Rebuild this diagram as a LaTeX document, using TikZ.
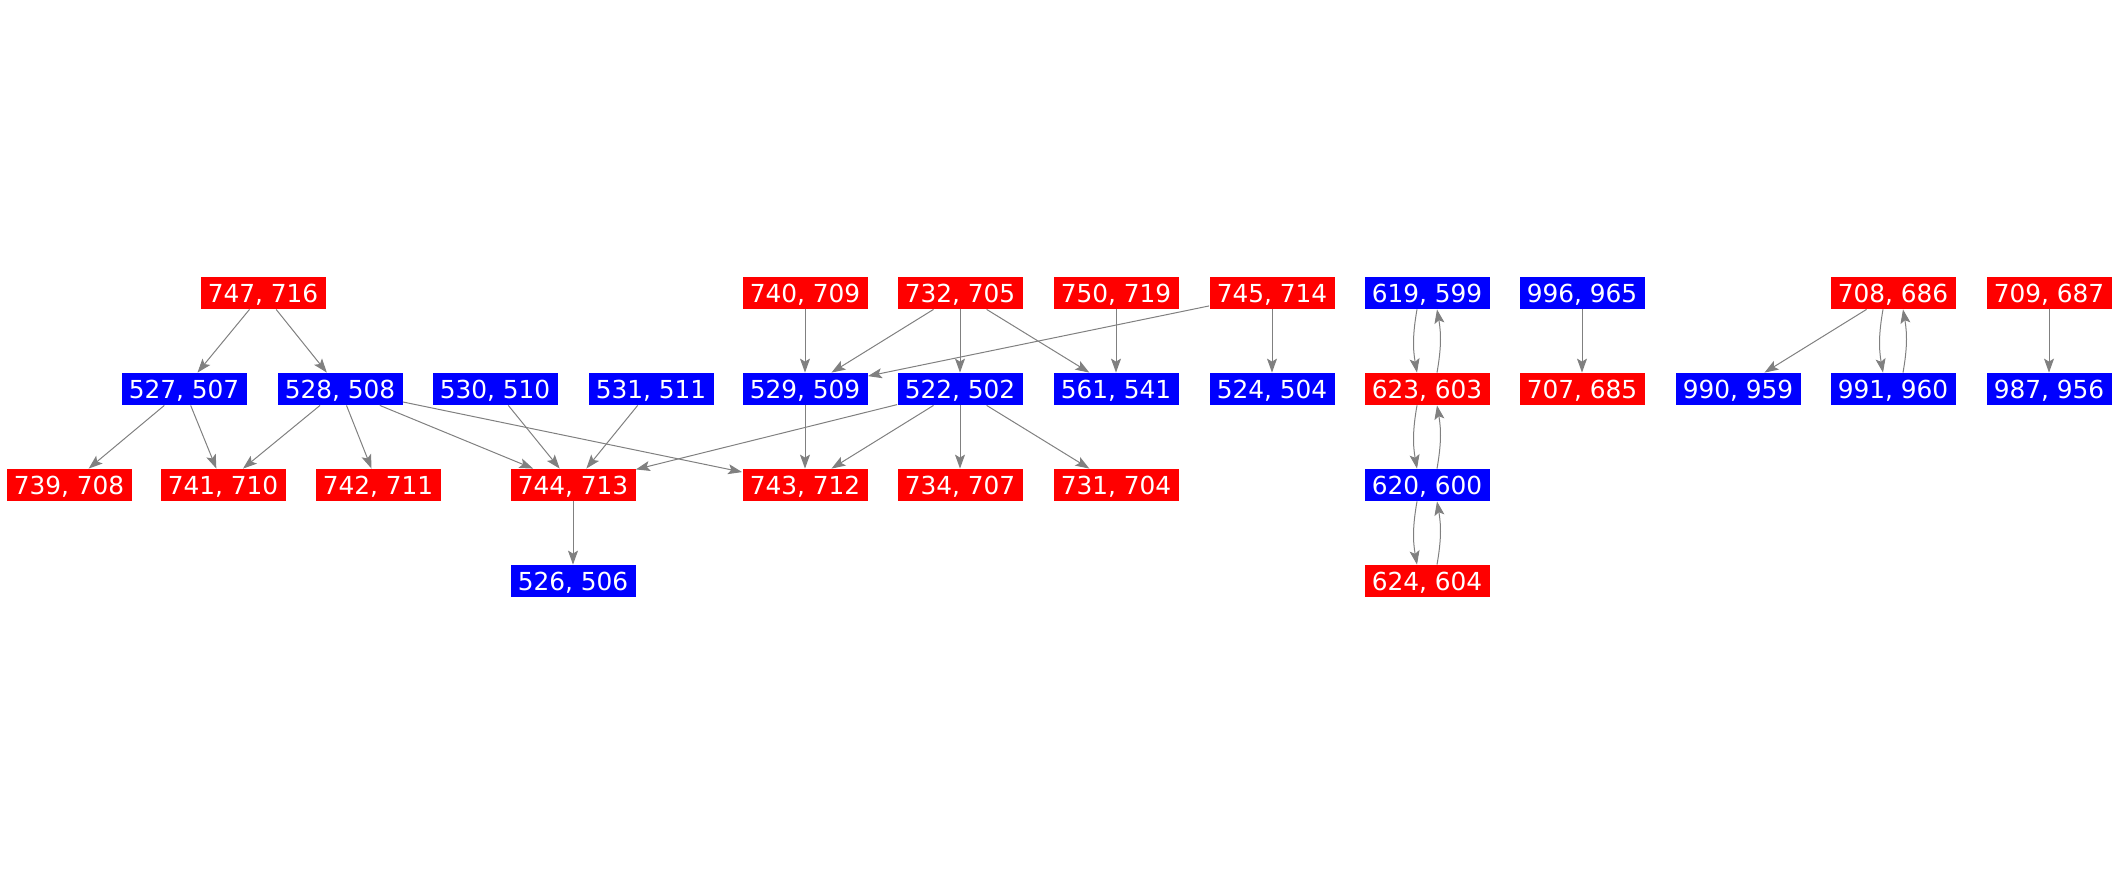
\documentclass[tikz,border=0pt]{standalone}
\usepackage{fontspec}
\setmainfont{DejaVu Sans}
\usepackage{xcolor}
\usepackage{tikz}
\usetikzlibrary{arrows.meta}

\tikzset{
  pair/.style={minimum width=62.5pt, minimum height=16pt, inner sep=0pt,
    text depth=0pt, text=white, font=\fontsize{12.4}{14}\selectfont},
  rnode/.style={pair, fill=red},
  bnode/.style={pair, fill=blue},
  edge/.style={draw=gray, line width=0.5pt,
    -{Stealth[length=7pt, width=5pt, inset=1.5pt]}}
}

\begin{document}
\begin{tikzpicture}[x=0.5pt, y=-0.5pt]
  \useasboundingbox (0,0) rectangle (2117,875);
  % first row
  \node[rnode] (n747) at (263,293) {747, 716};
  \node[rnode] (n740) at (805,293) {740, 709};
  \node[rnode] (n732) at (960,293) {732, 705};
  \node[rnode] (n750) at (1116,293) {750, 719};
  \node[rnode] (n745) at (1272,293) {745, 714};
  \node[bnode] (n619) at (1427,293) {619, 599};
  \node[bnode] (n996) at (1582,293) {996, 965};
  \node[rnode] (n708) at (1893,293) {708, 686};
  \node[rnode] (n709) at (2049,293) {709, 687};
  % second row
  \node[bnode] (n527) at (184,389) {527, 507};
  \node[bnode] (n528) at (340,389) {528, 508};
  \node[bnode] (n530) at (495,389) {530, 510};
  \node[bnode] (n531) at (651,389) {531, 511};
  \node[bnode] (n529) at (805,389) {529, 509};
  \node[bnode] (n522) at (960,389) {522, 502};
  \node[bnode] (n561) at (1116,389) {561, 541};
  \node[bnode] (n524) at (1272,389) {524, 504};
  \node[rnode] (n623) at (1427,389) {623, 603};
  \node[rnode] (n707) at (1582,389) {707, 685};
  \node[bnode] (n990) at (1738,389) {990, 959};
  \node[bnode] (n991) at (1893,389) {991, 960};
  \node[bnode] (n987) at (2049,389) {987, 956};
  % third row
  \node[rnode] (n739) at (69,485) {739, 708};
  \node[rnode] (n741) at (223,485) {741, 710};
  \node[rnode] (n742) at (378,485) {742, 711};
  \node[rnode] (n744) at (573,485) {744, 713};
  \node[rnode] (n743) at (805,485) {743, 712};
  \node[rnode] (n734) at (960,485) {734, 707};
  \node[rnode] (n731) at (1116,485) {731, 704};
  \node[bnode] (n620) at (1427,485) {620, 600};
  % fourth row
  \node[bnode] (n526) at (573,581) {526, 506};
  \node[rnode] (n624) at (1427,581) {624, 604};

  % edges
  \draw[edge] (n747) -- (n527);
  \draw[edge] (n747) -- (n528);
  \draw[edge] (n527) -- (n739);
  \draw[edge] (n527) -- (n741);
  \draw[edge] (n528) -- (n741);
  \draw[edge] (n528) -- (n742);
  \draw[edge] (n528) -- (n744);
  \draw[edge] (n528) -- (n743);
  \draw[edge] (n530) -- (n744);
  \draw[edge] (n531) -- (n744);
  \draw[edge] (n744) -- (n526);
  \draw[edge] (n740) -- (n529);
  \draw[edge] (n732) -- (n529);
  \draw[edge] (n732) -- (n522);
  \draw[edge] (n732) -- (n561);
  \draw[edge] (n750) -- (n561);
  \draw[edge] (n745) -- (n529);
  \draw[edge] (n745) -- (n524);
  \draw[edge] (n529) -- (n743);
  \draw[edge] (n522) -- (n744);
  \draw[edge] (n522) -- (n743);
  \draw[edge] (n522) -- (n734);
  \draw[edge] (n522) -- (n731);
  \draw[edge] (n996) -- (n707);
  \draw[edge] (n708) -- (n990);
  \draw[edge] (n709) -- (n987);
  % two-way pairs
  \draw[edge] ([xshift=-5pt]n619.south) to[bend right=10] ([xshift=-5pt]n623.north);
  \draw[edge] ([xshift=5pt]n623.north) to[bend right=10] ([xshift=5pt]n619.south);
  \draw[edge] ([xshift=-5pt]n623.south) to[bend right=10] ([xshift=-5pt]n620.north);
  \draw[edge] ([xshift=5pt]n620.north) to[bend right=10] ([xshift=5pt]n623.south);
  \draw[edge] ([xshift=-5pt]n620.south) to[bend right=10] ([xshift=-5pt]n624.north);
  \draw[edge] ([xshift=5pt]n624.north) to[bend right=10] ([xshift=5pt]n620.south);
  \draw[edge] ([xshift=-5pt]n708.south) to[bend right=10] ([xshift=-5pt]n991.north);
  \draw[edge] ([xshift=5pt]n991.north) to[bend right=10] ([xshift=5pt]n708.south);
\end{tikzpicture}
\end{document}
